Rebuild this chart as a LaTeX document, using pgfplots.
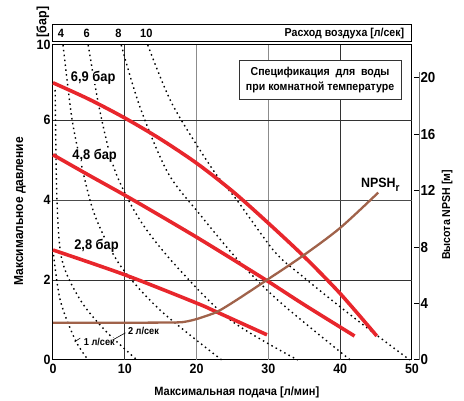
\documentclass[border=0pt]{standalone}
\usepackage{fontspec}
\setmainfont{Liberation Sans}[FakeStretch=0.92]
\usepackage{pgfplots}
\pgfplotsset{compat=1.18}
\definecolor{pumpred}{HTML}{E8262C}
\definecolor{npsh}{HTML}{A0624A}
\newcommand{\fs}[1]{\bfseries\fontsize{#1}{#1}\selectfont}
\begin{document}
\begin{tikzpicture}[font=\bfseries]
\useasboundingbox (0,0) rectangle (464pt,401pt);
\begin{axis}[
  at={(53pt,41pt)}, anchor=south west, scale only axis,
  width=359pt, height=315pt,
  xmin=0, xmax=50, ymin=0, ymax=7.875,
  clip=false,
  axis line style={line width=1pt},
  xtick={0,10,20,30,40,50}, xticklabels={0,10,20,30,40,50},
  ytick={0,2,4,6,7.875}, yticklabels={0,2,4,6,10},
  major tick length=0pt,
  /pgf/number format/assume math mode=true,
  tick label style={font=\fs{13.5}},
  xticklabel style={yshift=-1pt},
  yticklabel style={xshift=1pt},
  dashed curve/.style={black, line width=1.4pt, dash pattern=on 1.5pt off 3.4pt, smooth},
  pump/.style={pumpred, line width=3.6pt, smooth},
]
% grid
\draw[black!80, line width=0.9pt] (axis cs:10,0) -- (axis cs:10,7.875);
\draw[black!45, line width=1pt] (axis cs:20,0) -- (axis cs:20,7.875);
\draw[black!45, line width=1pt] (axis cs:30,0) -- (axis cs:30,7.875);
\draw[black!80, line width=0.9pt] (axis cs:40,0) -- (axis cs:40,7.875);
\draw[black!80, line width=0.9pt] (axis cs:0,2) -- (axis cs:50,2);
\draw[black!70, line width=0.9pt] (axis cs:0,4) -- (axis cs:50,4);
\draw[black!80, line width=0.9pt] (axis cs:0,6) -- (axis cs:50,6);

% air consumption curves
\addplot[dashed curve] coordinates {(0,2.75) (1.0,1.5) (3.1,0.5) (4.9,0)};
\addplot[dashed curve] coordinates {(0.3,6.75) (0.55,4.0) (1.25,2.5) (3.8,1.5) (7.2,0.75) (11.7,0)};
\addplot[dashed curve] coordinates {(1.4,7.875) (2.6,6.08) (3.8,5.0) (5.8,3.63) (9.3,2.38) (14.9,1.25) (23.5,0)};
\addplot[dashed curve] coordinates {(4.9,7.875) (6.5,6.25) (8.6,4.75) (12.1,3.5) (17.0,2.38) (24.7,1.0) (34.1,0)};
\addplot[dashed curve] coordinates {(9.5,7.875) (12.1,6.33) (16.0,4.68) (20.5,3.63) (26.0,2.45) (31.6,1.45) (41.4,0)};
\addplot[dashed curve] coordinates {(13.2,7.875) (16.6,6.4) (22.1,4.8) (25.6,4.0) (30.9,2.7) (34.7,2.1) (39.5,1.4) (44.5,0.7) (49.7,0)};

% curve labels (under the pump curves)
\node[fill=white, inner sep=0pt, font=\fs{14}] at (axis cs:5.6,7.06) {6,9 бар};
\node[fill=white, inner sep=0pt, font=\fs{14}] at (axis cs:5.8,5.1) {4,8 бар};
\node[fill=white, inner sep=0pt, font=\fs{14}] at (axis cs:6.06,2.85) {2,8 бар};
\node[fill=white, inner sep=0.5pt, font=\fs{10}] at (axis cs:6.45,0.45) {1 л/сек};
\node[fill=white, inner sep=0.5pt, font=\fs{10}] at (axis cs:12.6,0.72) {2 л/сек};
\draw[black, line width=0.6pt] (axis cs:3.0,0.45) -- (axis cs:3.8,0.55);
\draw[black, line width=0.6pt] (axis cs:8.3,0.5) -- (axis cs:10.1,0.68);

% pump curves
\addplot[pump] coordinates {(0,6.93) (5,6.52) (10,6.05) (15,5.52) (20,4.92) (25,4.22) (30,3.42) (35,2.58) (40,1.66) (45.1,0.6)};
\addplot[pump] coordinates {(0,5.13) (5,4.62) (10,4.12) (15,3.6) (20,3.07) (25,2.52) (30,1.96) (35,1.38) (42,0.6)};
\addplot[pump] coordinates {(0,2.75) (10,2.13) (19.9,1.43) (22.8,1.2) (29.8,0.63)};

\node[font=\fs{13.5}] at (axis cs:45.6,4.38) {NPSH\raisebox{-3.5pt}{\fs{11}r}};

% spec box
\node[draw=black!80, line width=0.9pt, fill=white, minimum width=162pt, minimum height=39pt, align=center, inner sep=2pt, font=\bfseries\fontsize{11.5}{15}\selectfont] at (axis cs:37.2,6.99) {Спецификация\ \ для\ \ воды\\при комнатной температуре};

% top air-flow box
\draw[line width=1pt] (axis cs:0,8.375) rectangle (axis cs:50,7.955);
\node[font=\fs{11.5}, anchor=east] at (axis cs:49.4,8.16) {Расход воздуха [л/сек]};
\node[font=\fs{12}] at (axis cs:1.1,8.16) {4};
\node[font=\fs{12}] at (axis cs:4.7,8.16) {6};
\node[font=\fs{12}] at (axis cs:9.1,8.16) {8};
\node[font=\fs{12}] at (axis cs:13.0,8.16) {10};

% axis titles
\node[rotate=90, font=\fs{13}] at (axis cs:-4.6,3.72) {Максимальное давление};
\node[rotate=90, font=\fs{13.5}] at (axis cs:-1.4,8.45) {[бар]};
\node[font=\fs{12}] at (axis cs:25.6,-0.82) {Максимальная подача [л/мин]};
\node[rotate=90, font=\fs{11.5}] at (axis cs:54.9,3.63) {Высота NPSH [м]};
\end{axis}

\begin{axis}[
  at={(53pt,41pt)}, anchor=south west, scale only axis,
  width=366pt, height=288pt,
  xmin=0, xmax=50.975, ymin=0, ymax=20.4,
  axis x line=none, axis y line*=right,
  y axis line style={black!55, line width=1pt},
  ytick={0,4,8,12,16,20},
  yticklabels={0,4,8,12,16,20},
  tick align=inside, major tick length=5pt,
  ytick style={black, line width=1pt},
  yticklabel style={font=\fs{14.5}, xshift=-2pt},
]
\addplot[npsh, line width=2.3pt, smooth] coordinates {(0,2.64) (10,2.64) (17,2.66) (18.5,2.72) (20,2.9) (21.5,3.15) (23,3.45) (25.6,4.26) (29.8,5.67) (34.8,7.38) (40,9.36) (45.3,11.86)};
\end{axis}
\end{tikzpicture}
\end{document}
